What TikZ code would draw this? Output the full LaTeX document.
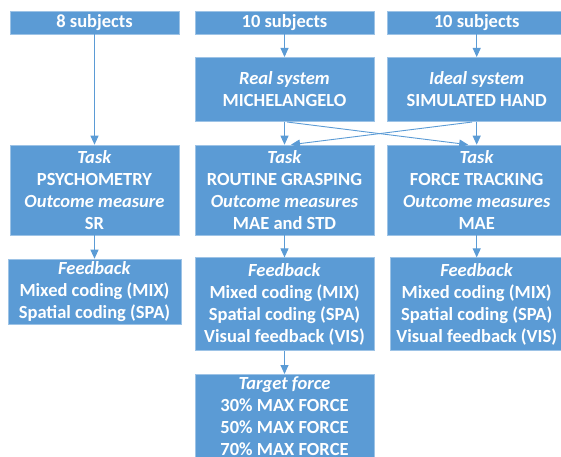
\documentclass[tikz,border=0pt]{standalone}
\usepackage{fontspec}
\setmainfont{Carlito}
\usetikzlibrary{arrows.meta,calc}
\definecolor{boxblue}{HTML}{5B9BD5}
\definecolor{edgeblue}{HTML}{9DC3E6}
\begin{document}
\begin{tikzpicture}[x=1bp,y=-1bp,
  box/.style={fill=boxblue, draw=edgeblue, line width=0.6bp, text=white, align=center,
    inner sep=0pt, font=\fontsize{18.5bp}{22bp}\selectfont\bfseries},
  conn/.style={draw=boxblue, line width=0.9bp, -{Triangle[width=8bp,length=9bp]}}]
\useasboundingbox (0,0) rectangle (561,457);
% top row
\node[box, minimum width=169bp, minimum height=22.3bp] (s1) at (94.5,22.9) {8 subjects};
\node[box, minimum width=179bp, minimum height=22.3bp] (s2) at (284.5,22.9) {10 subjects};
\node[box, minimum width=179bp, minimum height=22.3bp] (s3) at (476.7,22.9) {10 subjects};
% systems
\node[box, minimum width=179bp, minimum height=64.4bp] (real) at (284.5,89.5) {\textit{Real system}\\MICHELANGELO};
\node[box, minimum width=179bp, minimum height=64.4bp] (ideal) at (476.7,89.5) {\textit{Ideal system}\\SIMULATED HAND};
% tasks
\node[box, minimum width=169bp, minimum height=90bp] (t1) at (94.5,190) {\textit{Task}\\PSYCHOMETRY\\\textit{Outcome measure}\\SR};
\node[box, minimum width=179bp, minimum height=90bp] (t2) at (284.5,190) {\textit{Task}\\ROUTINE GRASPING\\\textit{Outcome measures}\\MAE and STD};
\node[box, minimum width=179bp, minimum height=90bp] (t3) at (476.7,190) {\textit{Task}\\FORCE TRACKING\\\textit{Outcome measures}\\MAE};
% feedback
\node[box, minimum width=173bp, minimum height=65bp] (f1) at (94.5,291.5) {\textit{Feedback}\\Mixed coding (MIX)\\Spatial coding (SPA)};
\node[box, minimum width=179bp, minimum height=93bp] (f2) at (284.5,304.2) {\textit{Feedback}\\Mixed coding (MIX)\\Spatial coding (SPA)\\Visual feedback (VIS)};
\node[box, minimum width=173bp, minimum height=93bp] (f3) at (476.7,304.2) {\textit{Feedback}\\Mixed coding (MIX)\\Spatial coding (SPA)\\Visual feedback (VIS)};
% target
\node[box, minimum width=179bp, minimum height=84bp] (tf) at (284.5,416.3) {\textit{Target force}\\30\% MAX FORCE\\50\% MAX FORCE\\70\% MAX FORCE};
% connectors
\draw[conn] (s1) -- (t1);
\draw[conn] (s2) -- (real);
\draw[conn] (s3) -- (ideal);
\draw[conn] (real) -- (t2);
\draw[conn] (ideal) -- (t3);
\draw[conn] ($(real.south)+(2.5,0)$) -- ($(t3.north)+(-8.5,0)$);
\draw[conn] ($(ideal.south)+(-4.5,0)$) -- ($(t2.north)+(6.5,0)$);
\draw[conn] (t1) -- (f1);
\draw[conn] (t2) -- (f2);
\draw[conn] (t3) -- (f3);
\draw[conn] (f2) -- (tf);
\end{tikzpicture}
\end{document}
